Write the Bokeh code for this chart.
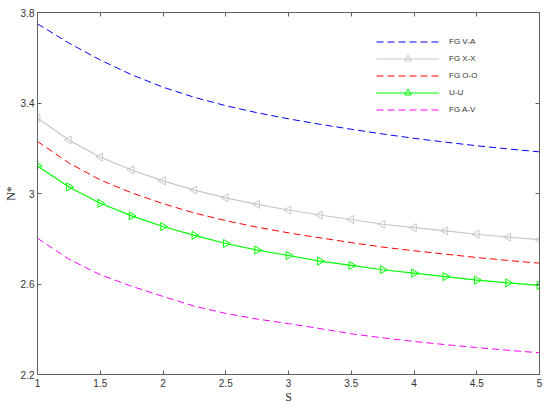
import math
from bokeh.plotting import figure
from bokeh.models import LinearAxis, FixedTicker, Legend, LegendItem, Range1d
from bokeh.embed import file_html
from bokeh.resources import INLINE

# ---- data ----
s_values = [1.0, 1.25, 1.5, 1.75, 2.0, 2.25, 2.5, 2.75, 3.0,
            3.25, 3.5, 3.75, 4.0, 4.25, 4.5, 4.75, 5.0]
fg_va = [3.750, 3.665, 3.590, 3.525, 3.470, 3.425, 3.388, 3.357, 3.330,
         3.306, 3.284, 3.263, 3.244, 3.227, 3.211, 3.197, 3.184]
fg_xx = [3.334, 3.236, 3.161, 3.104, 3.056, 3.015, 2.981, 2.952, 2.927,
         2.905, 2.885, 2.864, 2.849, 2.835, 2.820, 2.807, 2.796]
fg_oo = [3.230, 3.135, 3.060, 3.003, 2.955, 2.914, 2.880, 2.851, 2.826,
         2.804, 2.783, 2.763, 2.747, 2.732, 2.717, 2.704, 2.692]
u_u = [3.122, 3.029, 2.957, 2.901, 2.854, 2.815, 2.779, 2.750, 2.726,
       2.701, 2.682, 2.663, 2.648, 2.633, 2.617, 2.605, 2.594]
fg_av = [2.802, 2.710, 2.641, 2.590, 2.545, 2.502, 2.470, 2.445, 2.425,
         2.403, 2.380, 2.362, 2.346, 2.332, 2.319, 2.307, 2.296]

x_ticks = [1, 1.5, 2, 2.5, 3, 3.5, 4, 4.5, 5]
x_tick_labels = ["1", "1.5", "2", "2.5", "3", "3.5", "4", "4.5", "5"]
y_ticks = [2.2, 2.6, 3, 3.4, 3.8]
y_tick_labels = ["2.2", "2.6", "3", "3.4", "3.8"]

series_names = ["FG V-A", "FG X-X", "FG O-O", "U-U", "FG A-V"]

# ---- figure ----
p = figure(width=548, height=406, output_backend="svg", toolbar_location=None,
           x_range=Range1d(1, 5), y_range=Range1d(2.2, 3.8),
           min_border_left=20, min_border_right=9, min_border_top=12,
           min_border_bottom=20)
p.background_fill_color = "white"
p.border_fill_color = "white"
p.outline_line_color = "#606060"
p.outline_line_width = 1
p.grid.visible = False

axis_color = "#606060"
label_color = "#333333"

def style_axis(ax, ticks, labels):
    ax.ticker = FixedTicker(ticks=ticks)
    ax.axis_line_color = axis_color
    ax.major_tick_line_color = axis_color
    ax.major_tick_in = 4
    ax.major_tick_out = 0
    ax.minor_tick_line_color = None
    ax.major_label_text_font = "Liberation Sans"
    ax.major_label_text_color = label_color
    ax.major_label_text_font_size = "10px"
    ax.major_label_overrides = {t: l for t, l in zip(ticks, labels)}

style_axis(p.xaxis[0], x_ticks, x_tick_labels)
style_axis(p.yaxis[0], y_ticks, y_tick_labels)
p.xaxis[0].major_label_standoff = 4
p.yaxis[0].major_label_standoff = 3
p.xaxis[0].axis_label = "S"
p.yaxis[0].axis_label = "N*"
for ax in (p.xaxis[0], p.yaxis[0]):
    ax.axis_label_text_font = "Liberation Serif"
    ax.axis_label_text_font_style = "normal"
    ax.axis_label_text_font_size = "12px"
    ax.axis_label_text_color = label_color
    ax.axis_label_standoff = 0

# box axes (ticks only, no labels)
top_ax = LinearAxis(ticker=FixedTicker(ticks=x_ticks))
right_ax = LinearAxis(ticker=FixedTicker(ticks=y_ticks))
for ax in (top_ax, right_ax):
    ax.axis_line_color = axis_color
    ax.major_tick_line_color = axis_color
    ax.major_tick_in = 4
    ax.major_tick_out = 0
    ax.minor_tick_line_color = None
    ax.major_label_text_color = None
    ax.major_label_text_font_size = "1px"
    ax.major_label_standoff = 0
p.add_layout(top_ax, "above")
p.add_layout(right_ax, "right")

dash = "7 4"
r_va = p.line(s_values, fg_va, line_color="#0000FF", line_width=1, line_dash=dash)
r_xx = p.line(s_values, fg_xx, line_color="#C8C8C8", line_width=1.2)
m_xx = p.scatter(s_values, fg_xx, marker="triangle", angle=math.pi / 2, size=8,
                 line_color="#C8C8C8", fill_color=None, line_width=1)
r_oo = p.line(s_values, fg_oo, line_color="#FF0000", line_width=1, line_dash=dash)
r_uu = p.line(s_values, u_u, line_color="#00FF00", line_width=1.2)
m_uu = p.scatter(s_values, u_u, marker="triangle", angle=-math.pi / 2, size=8,
                 line_color="#00FF00", fill_color=None, line_width=1)
r_av = p.line(s_values, fg_av, line_color="#FF00FF", line_width=1, line_dash=dash)

legend = Legend(items=[
    LegendItem(label=series_names[0], renderers=[r_va]),
    LegendItem(label=series_names[1], renderers=[r_xx, m_xx]),
    LegendItem(label=series_names[2], renderers=[r_oo]),
    LegendItem(label=series_names[3], renderers=[r_uu, m_uu]),
    LegendItem(label=series_names[4], renderers=[r_av]),
])
legend.location = (339, 256)
legend.padding = 0
legend.margin = 0
legend.spacing = 0
legend.glyph_width = 63
legend.glyph_height = 17
legend.label_standoff = 10
legend.label_height = 17
legend.label_text_font = "Liberation Sans"
legend.label_text_font_size = "8px"
legend.label_text_color = label_color
legend.border_line_color = None
legend.background_fill_alpha = 0
p.add_layout(legend, "center")

open("out.html", "w").write(file_html(p, INLINE))
